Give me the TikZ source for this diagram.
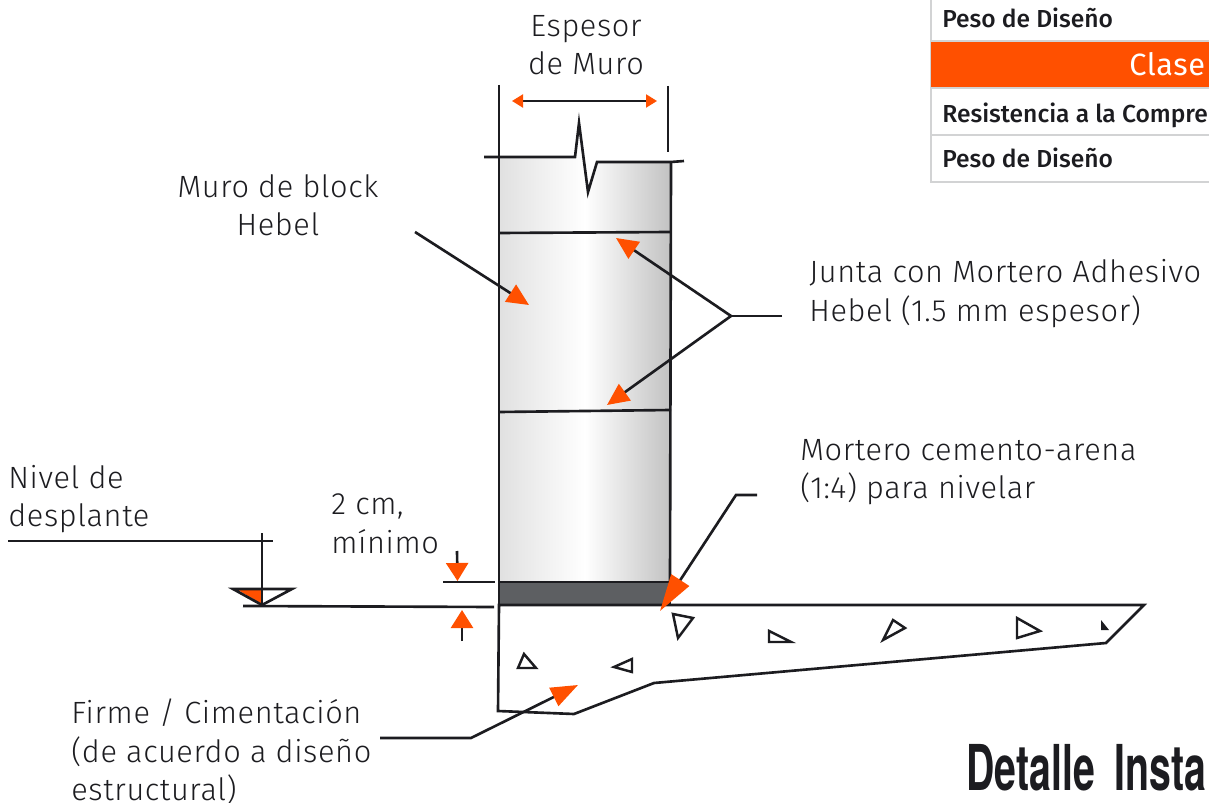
\documentclass[tikz,border=0pt]{standalone}
\usepackage{fontspec}
\usepackage{tikz}
\usetikzlibrary{arrows.meta}
\setmainfont{Fira Sans Light}[LetterSpace=2]
\newfontfamily\tablefont{Fira Sans Medium}
\newfontfamily\clasefont{Fira Sans}[LetterSpace=2]
\newfontfamily\titlefont{TeX Gyre Heros Bold}[FakeStretch=0.62,WordSpace=1.8]
\definecolor{hebel}{HTML}{FF5000}
\definecolor{ink}{HTML}{1C1C20}
\definecolor{mortar}{HTML}{5D5F62}
\definecolor{rowline}{HTML}{D2D3D4}

\begin{document}
\begin{tikzpicture}[x = 0.02cm, y = -0.02cm,
                    line/.style   = {draw = ink, line width = 1.5pt},
                    lead/.style   = {line, -{Triangle[color = hebel, length = 4.4mm, width = 4mm]}},
                    tiny/.style   = {line, -{Triangle[color = hebel, length = 3.6mm, width = 4.4mm]}},
                    rock/.style   = {line, line width = 1.4pt, miter limit = 10},
                    label/.style  = {inner sep = 0pt, text = ink, align = left,
                                     font = \fontsize{17.5}{21.9}\selectfont},
                    cell/.style   = {inner sep = 0pt, anchor = base west, text = ink,
                                     font = \tablefont\fontsize{14}{15}\selectfont},
                    block/.style  = {left color = gray!24, right color = gray!48, middle color = white}]
\useasboundingbox (0,0) rectangle (1209,803);

% wall
\coordinate (tl) at (499,157);
\coordinate (tr) at (671,162);
\coordinate (bl) at (499,582);
\coordinate (br) at (670,582);
\path[block] (tl) -- (575,157) -- (579,123) -- (588,192) -- (597,162) -- (tr) -- (br) -- (bl) -- cycle;
\draw[line] (484,157) -- (tl) -- (575,157) -- (579,123) -- (588,192) -- (597,162) -- (tr) -- (684,161);
\draw[line] (tl) -- (bl);
\draw[line] (tr) -- (br);
\coordinate (j1a) at (499,233);
\coordinate (j1b) at (671,232);
\coordinate (j2a) at (499,412);
\coordinate (j2b) at (671,410);
\draw[line] (j1a) -- (j1b);
\draw[line] (j2a) -- (j2b);

% mortar and slab
\filldraw[line, fill = mortar] (bl) rectangle (670,605);
\draw[line] (499,605) -- (498,711) -- (574,714) -- (654,683) -- (1106,643) -- (1144,605) -- cycle;
\draw[rock] (518,668) -- (524,654) -- (536,668) -- cycle;
\draw[rock] (614,667) -- (632,659) -- (632,672) -- cycle;
\draw[rock] (673,614) -- (693,618) -- (678,638) -- cycle;
\draw[rock] (769,631) -- (791,642) -- (769,642) -- cycle;
\draw[rock] (883,640) -- (893,620) -- (905,628) -- cycle;
\draw[rock] (1017,618) -- (1040,631) -- (1017,638) -- cycle;
\fill[ink] (1101,620) -- (1109,630) -- (1101,630) -- cycle;

% width of wall
\coordinate (dl) at (512,101);
\coordinate (dr) at (657,101);
\draw[line] (499,85) -- (tl);
\draw[line] (668,86) -- (668,152);
\draw[line, line width = 1.2pt, {Triangle[color = hebel, length = 2.2mm, width = 2.6mm]}-{Triangle[color = hebel, length = 2.2mm, width = 2.6mm]}] (dl) -- (dr);

% level mark
\coordinate (lv) at (262,605);
\draw[line] (8,541) -- (273,541);
\fill[hebel] (238,590) -- (262,590) -- (262,604) -- cycle;
\draw[line] (233,589) -- (292,589) -- (lv) -- cycle;
\draw[line] (262,533) -- (lv);
\draw[line] (243,606) -- (494,607);

% 2 cm mark
\draw[line] (443,582) -- (495,582);
\draw[tiny] (457,551) -- (457.5,581);
\draw[tiny] (462,641) -- (462,610);

% labels
\node[label, align = center] (espesor) at (586,45) {Espesor\\de Muro};
\node[label, align = center] (muro) at (278,205) {Muro de block\\Hebel};
\node[label, anchor = west] (junta) at (809,293.5) {Junta con Mortero Adhesivo\\Hebel (1.5 mm espesor)};
\node[label, anchor = west] (mortero) at (800,472) {Mortero cemento-arena\\(1:4) para nivelar};
\node[label, anchor = west] (nivel) at (8,499) {Nivel de\\desplante};
\node[label, anchor = west] (minimo) at (331,524) {2 cm,\\mínimo};
\node[label, anchor = west] (firme) at (71,752) {Firme / Cimentación\\(de acuerdo a diseño\\estructural)};

% leaders
\coordinate (muroend) at (415,232);
\coordinate (murotip) at (529,305);
\coordinate (juntaend) at (782,316);
\coordinate (juntafork) at (731,316);
\coordinate (juntatop) at (616,238);
\coordinate (juntalow) at (607,405);
\coordinate (morteroend) at (757,495);
\coordinate (morteroelbow) at (736,495);
\coordinate (morterotip) at (660,611);
\coordinate (firmeend) at (380,738);
\coordinate (firmeelbow) at (471,738);
\coordinate (firmetip) at (578,685);
\draw[lead] (muroend) -- (murotip);
\draw[line] (juntaend) -- (juntafork);
\draw[lead] (juntafork) -- (juntatop);
\draw[lead] (juntafork) -- (juntalow);
\draw[line, -{Triangle[color = hebel, length = 7.4mm, width = 4.2mm]}] (morteroend) -- (morteroelbow) -- (morterotip);
\draw[line, -{Triangle[color = hebel, length = 5.4mm, width = 4mm]}] (firmeend) -- (firmeelbow) -- (firmetip);

% table corner
\draw[rowline, line width = 1.2pt] (931,0) -- (931,182) -- (1209,182);
\draw[rowline, line width = 1.2pt] (931,41) -- (1209,41);
\draw[rowline, line width = 1.2pt] (931,135) -- (1209,135);
\fill[hebel] (931,42) rectangle (1209,87);
\draw[rowline, line width = 1.2pt] (931,88) -- (1209,88);
\node[cell] (peso1) at (942,28) {Peso de Diseño};
\node[cell] (resist) at (942,123) {Resistencia a la Compre};
\node[cell] (peso2) at (942,168) {Peso de Diseño};
\node[inner sep = 0pt, anchor = base west, text = white, font = \clasefont\fontsize{17.5}{20}\selectfont] (clase) at (1129,76) {Clase};
\node[inner sep = 0pt, anchor = base west, text = ink, font = \titlefont\fontsize{36}{38}\selectfont] (titulo) at (966,790) {Detalle Insta};
\end{tikzpicture}
\end{document}
